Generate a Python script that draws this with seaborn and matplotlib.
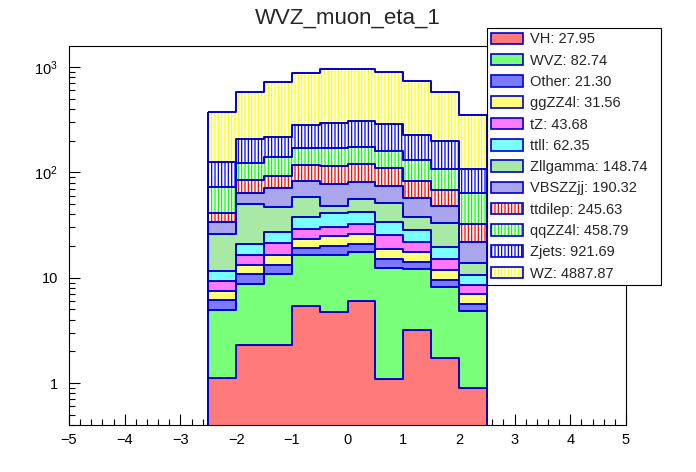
import numpy as np
import matplotlib
matplotlib.use('Agg')
import matplotlib.pyplot as plt
from matplotlib.patches import Patch
from matplotlib.ticker import FixedLocator, FixedFormatter, MultipleLocator, LogLocator, NullFormatter
import seaborn as sns

# bin edges of the eta histogram
edges = [-2.5, -2.0, -1.5, -1.0, -0.5, 0.0, 0.5, 1.0, 1.5, 2.0, 2.5]

# per-sample bin contents, stacked bottom -> top
samples = ['VH', 'WVZ', 'Other', 'ggZZ4l', 'tZ', 'ttll', 'Zllgamma',
           'VBSZZjj', 'ttdilep', 'qqZZ4l', 'Zjets', 'WZ']
totals = [27.95, 82.74, 21.30, 31.56, 43.68, 62.35, 148.74,
          190.32, 245.63, 458.79, 921.69, 4887.87]

VH = [1.11, 2.28, 2.30, 5.35, 4.70, 5.98, 1.09, 3.17, 1.72, 0.89]
WVZ = [3.79, 6.37, 8.65, 10.95, 11.65, 11.66, 11.18, 8.97, 6.38, 3.94]
Other = [1.20, 2.18, 2.19, 2.97, 3.85, 3.06, 2.70, 2.10, 1.40, 0.79]
ggZZ4l = [1.32, 2.36, 3.16, 4.03, 4.70, 5.10, 3.83, 3.10, 2.33, 1.33]
tZ = [1.82, 3.12, 4.90, 5.50, 5.70, 6.40, 6.50, 4.71, 3.11, 1.57]
ttll = [2.26, 4.43, 6.20, 8.60, 10.50, 9.60, 8.70, 6.45, 4.61, 2.08]
Zllgamma = [14.3, 29.0, 19.3, 20.9, 6.8, 14.0, 16.8, 8.8, 13.25, 3.33]
VBSZZjj = [7.8, 13.5, 23.8, 24.5, 29.1, 25.7, 23.9, 19.4, 15.6, 7.77]
ttdilep = [7.8, 21.4, 22.4, 33.8, 38.6, 37.7, 34.5, 25.2, 19.3, 10.4]
qqZZ4l = [31.7, 38.9, 47.8, 52.4, 53.4, 55.8, 51.3, 47.6, 39.2, 31.1]
Zjets = [51.5, 82.5, 74.3, 112.0, 123.0, 134.0, 125.5, 94.5, 91.5, 43.7]
WZ = [247, 377, 511, 602, 659, 655, 616, 517, 377, 241]

counts = [VH, WVZ, Other, ggZZ4l, tZ, ttll, Zllgamma, VBSZZjj, ttdilep, qqZZ4l, Zjets, WZ]

colors = ['#ff0000', '#00ff00', '#0000ff', '#ffff00', '#ff00ff', '#00ffff',
          '#59d454', '#5954d8', '#ff0000', '#00ff00', '#0000ff', '#ffff00']
patterns = ['check'] * 8 + ['vline'] * 4
line_col = '#0000cc'

sns.set_theme(style='white')
plt.rcParams['font.family'] = ['Liberation Sans', 'DejaVu Sans']
plt.rcParams['mathtext.default'] = 'regular'
plt.rcParams['hatch.linewidth'] = 0.9


def blend(c, f=0.52):
    rgb = np.array(matplotlib.colors.to_rgb(c))
    return tuple(rgb * f + (1 - f))


fig = plt.figure(figsize=(6.96, 4.72), dpi=100)
ax = fig.add_axes([69 / 696, 1 - 425 / 472, (626 - 69) / 696, (425 - 46) / 472])

ed = np.array(edges)
centers = (ed[:-1] + ed[1:]) / 2
cum = np.cumsum(np.array(counts, dtype=float), axis=0)

# draw like THStack: biggest cumulative first, then lower ones on top
for i in reversed(range(len(samples))):
    if patterns[i] == 'check':
        sns.histplot(x=centers, weights=cum[i], bins=edges, element='step', fill=True,
                     color=colors[i], facecolor=blend(colors[i]), edgecolor='none',
                     linewidth=0, alpha=1, ax=ax)
    else:
        sns.histplot(x=centers, weights=cum[i], bins=edges, element='step', fill=True,
                     color=colors[i], facecolor='white', edgecolor=colors[i],
                     hatch='|||||', linewidth=0, alpha=1, ax=ax)
    sns.histplot(x=centers, weights=cum[i], bins=edges, element='step', fill=True,
                 color=line_col, facecolor='none', edgecolor=line_col,
                 linewidth=1.4, alpha=1, ax=ax)

ax.set_yscale('log')
ax.set_xlim(-5, 5)
ax.set_ylim(0.4, 1580)
ax.set_xlabel('')
ax.set_ylabel('')

ax.xaxis.set_major_locator(MultipleLocator(1))
ax.xaxis.set_minor_locator(MultipleLocator(0.2))
ax.yaxis.set_major_locator(FixedLocator([1, 10, 100, 1000]))
ax.yaxis.set_major_formatter(FixedFormatter(['1', '10', '10$^{2}$', '10$^{3}$']))
ax.yaxis.set_minor_locator(LogLocator(base=10, subs=np.arange(2, 10)))
ax.yaxis.set_minor_formatter(NullFormatter())
ax.tick_params(which='both', direction='in', bottom=True, left=True, top=False, right=False,
               color='black', width=0.8, labelsize=10.5, labelcolor='black')
ax.tick_params(which='major', length=8)
ax.tick_params(which='minor', length=4)
ax.tick_params(axis='x', pad=6)
ax.tick_params(axis='y', pad=8)
for s in ax.spines.values():
    s.set_visible(True)
    s.set_color('black')
    s.set_linewidth(0.8)

fig.text(0.5, 1 - 18 / 472, 'WVZ_muon_eta_1', ha='center', va='center', fontsize=16)

handles = []
labels = []
for i in range(len(samples)):
    if patterns[i] == 'check':
        h = Patch(facecolor=blend(colors[i]), edgecolor=line_col, linewidth=1.2)
    else:
        h = (Patch(facecolor='white', edgecolor=colors[i], hatch='|||||', linewidth=0),
             Patch(facecolor='none', edgecolor=line_col, linewidth=1.2))
    handles.append(h)
    labels.append(f'{samples[i]}: {totals[i]:.2f}')

leg_top = 1 - 28 / 472
leg = fig.legend(handles, labels, loc='upper left',
                 bbox_to_anchor=(487 / 696, leg_top - 0.1, (661 - 487) / 696, 0.1),
                 bbox_transform=fig.transFigure, mode='expand', borderaxespad=0,
                 fontsize=10.5, handlelength=2.2, handleheight=0.85, handletextpad=0.45,
                 labelspacing=0.5, borderpad=0.3, fancybox=False, shadow=False,
                 framealpha=1, edgecolor='black')
leg.get_frame().set_linewidth(0.8)

fig.savefig('out.png', dpi=100, facecolor='white')
